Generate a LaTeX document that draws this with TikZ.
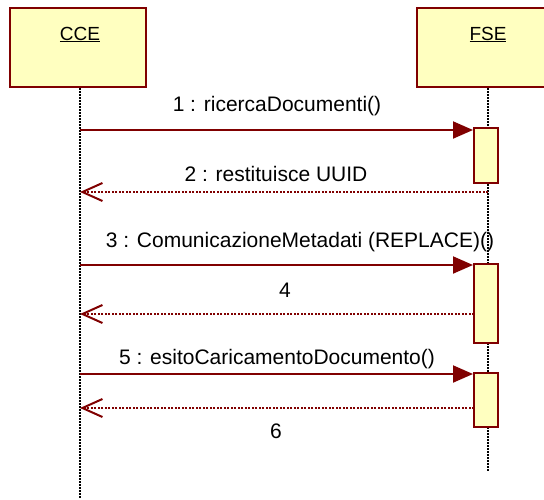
\documentclass[tikz,border=0pt]{standalone}
\usepackage{fontspec}
\setmainfont{Liberation Sans}
\usetikzlibrary{calc}
\usetikzlibrary{arrows.meta}
\definecolor{umlred}{RGB}{128,0,0}
\definecolor{umlyellow}{RGB}{255,255,192}
\tikzstyle{object}=[draw=umlred,fill=umlyellow,line width=2pt,minimum width=136pt,minimum height=79pt,inner sep=0pt]
\tikzstyle{objname}=[inner sep=0pt,anchor=base,font=\fontsize{19}{23}\selectfont]
\tikzstyle{activation}=[draw=umlred,fill=umlyellow,line width=2pt,minimum width=24pt,inner sep=0pt]
\tikzstyle{lifeline}=[black,line width=1.5pt,dash pattern=on 1.5pt off 1.5pt]
\tikzstyle{call}=[umlred,line width=2pt,-{Triangle[length=20pt,width=17pt]}]
\tikzstyle{reply}=[umlred,line width=2pt,dash pattern=on 2pt off 1.5pt,-{Straight Barb[length=20pt,width=18pt]}]
\tikzstyle{msglabel}=[inner sep=0pt,anchor=base,font=\fontsize{21}{25}\selectfont]
\newcommand{\newactivation}[4]{% Syntax: {name}{x}{top y}{bottom y}
\pgfmathsetmacro{\acth}{#4-#3}
\pgfmathsetmacro{\actmid}{(#3+#4)/2}
\node[activation,minimum height=\acth pt] (#1) at (#2,\actmid) {};
}
\newcommand{\newcall}[3]{% Syntax: {name}{y}{target activation}
\coordinate (#1) at (80,#2);
\draw[call] (#1) -- (#1 -| #3.west);
}
\newcommand{\newreply}[3]{% Syntax: {name}{start x}{y}
\coordinate (#1) at (80,#3);
\coordinate (#1s) at (#2,#3);
\draw[reply] (#1s) -- (#1);
}

\begin{document}
\begin{tikzpicture}[x=1pt,y=-1pt]
  \useasboundingbox (0,0) rectangle (544,499);
  \clip (0,0) rectangle (544,499);
  % objects
  \node[object] (cce) at (78,47.5) {};
  \node[objname] (cceName) at (80,40) {\underline{CCE}};
  \node[object] (fse) at (485,47.5) {};
  \node[objname] (fseName) at (488,40) {\underline{FSE}};
  % lifelines
  \coordinate (cceEnd) at (80,499);
  \coordinate (fseEnd) at (488,472);
  \draw[lifeline] (cce.south -| cceEnd) -- (cceEnd);
  \draw[lifeline] (fse.south -| fseEnd) -- (fseEnd);
  % activations
  \newactivation{act1}{486}{128}{183}
  \newactivation{act2}{486}{264}{343}
  \newactivation{act3}{486}{373}{427}
  % messages
  \newcall{m1}{130}{act1}
  \newreply{r2}{488}{192}
  \newcall{m3}{265}{act2}
  \newreply{r4}{474}{314}
  \newcall{m5}{374}{act3}
  \newreply{r6}{474}{408}
  %\draw[red] (cceEnd) circle (2pt); % use this to debug
  \node[msglabel] (l1) at (277,111) {1 : ricercaDocumenti()};
  \node[msglabel] (l2) at (276,181) {2 : restituisce UUID};
  \node[msglabel] (l3) at (300,247) {3 : ComunicazioneMetadati (REPLACE)()};
  \node[msglabel] (l4) at (285,297) {4};
  \node[msglabel] (l5) at (277,364) {5 : esitoCaricamentoDocumento()};
  \node[msglabel] (l6) at (276,438) {6};
\end{tikzpicture}
\end{document}
